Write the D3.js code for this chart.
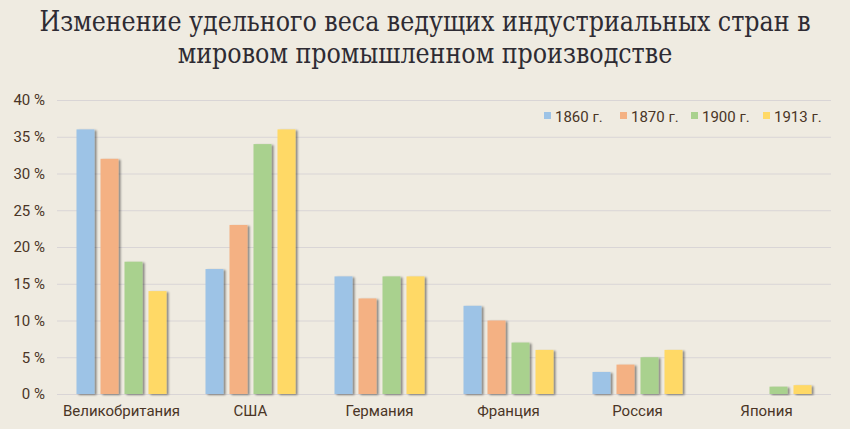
<!DOCTYPE html>
<html><head><meta charset="utf-8">
<script src="https://cdn.jsdelivr.net/npm/d3@7"></script>
<style>body{margin:0;background:#efebe1;}svg{display:block;}</style>
</head><body>
<svg id="c" width="850" height="429"></svg>
<script>
const categories = ["Великобритания","США","Германия","Франция","Россия","Япония"];
const seriesNames = ["1860 г.","1870 г.","1900 г.","1913 г."];
const v1860 = [36,17,16,12,3,0];
const v1870 = [32,23,13,10,4,0];
const v1900 = [18,34,16,7,5,1];
const v1913 = [14,36,16,6,6,1.2];
const yTicks = [0,5,10,15,20,25,30,35,40];
const colors = ["#9dc3e6","#f4b183","#a9d18e","#ffd966"];
const series = [v1860,v1870,v1900,v1913];

const svg = d3.select("#c");
const defs = svg.append("defs");
const f = defs.append("filter").attr("id","sh").attr("x","-20%").attr("y","-20%").attr("width","160%").attr("height","140%");
f.append("feGaussianBlur").attr("in","SourceAlpha").attr("stdDeviation",1);
f.append("feOffset").attr("dx",2).attr("dy",1).attr("result","o");
f.append("feComponentTransfer").append("feFuncA").attr("type","linear").attr("slope",0.45);
const m = f.append("feMerge"); m.append("feMergeNode"); m.append("feMergeNode").attr("in","SourceGraphic");

svg.append("rect").attr("width",850).attr("height",429).attr("fill","#efebe1");

const title = svg.append("text").attr("text-anchor","middle").attr("fill","#2e2b33")
  .attr("transform","translate(425,0) scale(0.98,1)")
  .style("font-family","'DejaVu Serif Condensed','DejaVu Serif',serif").style("font-size","27px");
title.append("tspan").attr("x",0).attr("y",31).text("Изменение удельного веса ведущих индустриальных стран в");
title.append("tspan").attr("x",0).attr("y",63).text("мировом промышленном производстве");

const x0 = d3.scaleBand().domain(categories).range([57,831]);
const x1 = d3.scaleBand().domain(d3.range(4)).range([0,90]).paddingInner(0.25).paddingOuter(0);
const y = d3.scaleLinear().domain([0,40]).range([394,100]);

const yAxis = d3.axisLeft(y).tickValues(yTicks).tickSize(-(831-57)).tickFormat(d=>d+" %");
const ga = svg.append("g").attr("transform","translate(57,0)").call(yAxis);
ga.select(".domain").remove();
ga.selectAll(".tick line").attr("stroke","#d9d5d6").attr("stroke-width",1);
ga.selectAll(".tick text").attr("x",-12).attr("fill","#4a3526")
  .style("font-family","Roboto,sans-serif").style("font-size","15px");

const xAxis = d3.axisBottom(x0).tickSize(0).tickPadding(10);
const gx = svg.append("g").attr("transform","translate(0,401)").call(xAxis);
gx.select(".domain").remove();
gx.selectAll(".tick text").attr("fill","#4a3526").attr("dy","0.3em")
  .style("font-family","Roboto,sans-serif").style("font-size","15px");

const groups = svg.append("g").selectAll("g").data(categories).join("g")
  .attr("transform",d=>`translate(${x0(d)+x0.bandwidth()/2-45},0)`);
groups.selectAll("rect").data((d,i)=>series.map((s,k)=>({k,v:s[i]})).filter(o=>o.v>0)).join("rect")
  .attr("x",o=>x1(o.k)).attr("width",x1.bandwidth())
  .attr("y",o=>y(o.v)).attr("height",o=>y(0)-y(o.v))
  .attr("fill",o=>colors[o.k]).attr("filter","url(#sh)");

const legX = [544,620,691,763];
const lg = svg.append("g").selectAll("g").data(seriesNames).join("g")
  .attr("transform",(d,i)=>`translate(${legX[i]},0)`);
lg.append("rect").attr("x",0).attr("y",112).attr("width",7).attr("height",7).attr("fill",(d,i)=>colors[i]);
lg.append("text").attr("x",11).attr("y",122).text(d=>d).attr("fill","#4a3526")
  .style("font-family","Roboto,sans-serif").style("font-size","15px");
</script>
</body></html>
